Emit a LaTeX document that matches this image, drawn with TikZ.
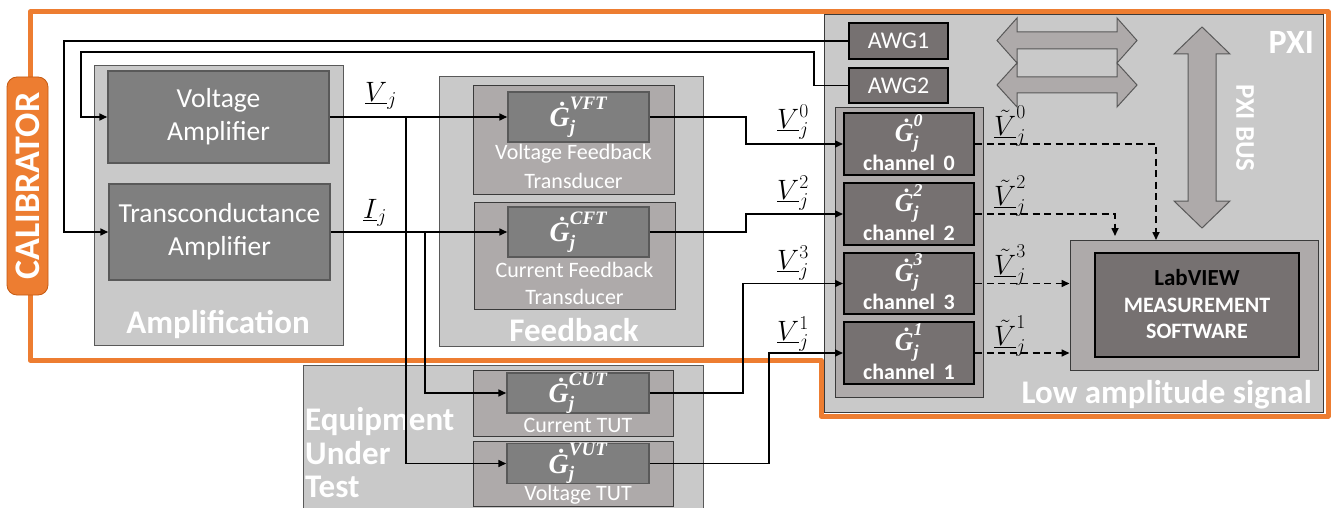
\RequirePackage{fix-cm}
\documentclass[tikz,border=0pt]{standalone}
\usepackage{fontspec}
\setmainfont{Carlito}
\newfontfamily\gF{Liberation Serif}
\usetikzlibrary{arrows.meta}
\definecolor{cL}{HTML}{C9C9C9}
\definecolor{cM}{HTML}{AEAAAA}
\definecolor{cD}{HTML}{7F7F7F}
\definecolor{cK}{HTML}{767171}
\definecolor{cO}{HTML}{ED7D31}
\definecolor{cOD}{HTML}{C55A11}
\definecolor{gB}{HTML}{595959}
\definecolor{gC}{HTML}{3A3A3A}
\newcommand{\fsz}[2]{\fontsize{#1}{#2}\selectfont}
\newcommand{\gsym}[3]{\ensuremath{\mbox{\gF\bfseries\itshape\fsz{#1}{#1}Ġ}^{\mbox{\gF\bfseries\itshape\fsz{#2}{#2}#3}}_{\mbox{\gF\bfseries\itshape\fsz{#2}{#2}j}}}}
\begin{document}
\begin{tikzpicture}[x=1pt,y=-1pt,
 lbox/.style={draw=gB, fill=cL, line width=1pt, inner sep=0pt},
 mbox/.style={draw=gC, fill=cM, line width=1pt, inner sep=0pt},
 dbox/.style={draw=gB, fill=cD, line width=1.5pt, inner sep=0pt, text=white},
 kbox/.style={draw=black, fill=cK, line width=2pt, inner sep=0pt, text=white},
 wire/.style={line width=1.6pt, -{Triangle[length=8pt,width=7pt]}},
 dwire/.style={wire, dash pattern=on 7pt off 4.5pt},
 wtxt/.style={text=white, inner sep=0pt},
 btxt/.style={text=white, inner sep=0pt, font=\bfseries\fsz{33}{33}},
 mlab/.style={inner sep=0pt, font=\fsz{28}{32}},
 gfont/.style={font=\fsz{26}{30}},
 arrowshape/.style={fill=cM, draw=gB, line width=1pt, line join=miter}
]
\useasboundingbox (0,0) rectangle (1333,508);
\clip (0,0) rectangle (1333,508);
\fill[white] (0,0) rectangle (1333,508);

% ---------- Amplification ----------
\node[lbox, minimum width=249pt, minimum height=279pt] (amp) at (218.5,205.5) {};
\node[dbox, minimum width=221pt, minimum height=92pt, align=center, font=\fsz{27.5}{33}] (va) at (218.5,117) {Voltage\\Amplifier};
\node[dbox, minimum width=221pt, minimum height=96pt, align=center, font=\fsz{27.5}{33}] (ta) at (219.5,232) {Transconductance\\Amplifier};
\node[btxt, anchor=base] (ampt) at (218,333) {Amplification};

% ---------- Feedback ----------
\node[lbox, minimum width=264pt, minimum height=269pt] (fb) at (571,211.5) {};
\node[mbox, minimum width=201pt, minimum height=108pt] (vftm) at (573.5,140) {};
\node[dbox, gfont, minimum width=141pt, minimum height=50pt] (vft) at (578.5,117) {\gsym{28}{19}{VFT}};
\node[wtxt, anchor=base, font=\fsz{22}{26}] (vftt1) at (573.5,160) {Voltage Feedback};
\node[wtxt, anchor=base, font=\fsz{22}{26}] (vftt2) at (573.5,188) {Transducer};
\node[mbox, minimum width=201pt, minimum height=107pt] (cftm) at (574.5,255.5) {};
\node[dbox, gfont, minimum width=141pt, minimum height=50pt] (cft) at (578.5,232) {\gsym{28}{19}{CFT}};
\node[wtxt, anchor=base, font=\fsz{22}{26}] (cftt1) at (574.5,277) {Current Feedback};
\node[wtxt, anchor=base, font=\fsz{22}{26}] (cftt2) at (574.5,304) {Transducer};
\node[btxt, anchor=base] (fbt) at (574,341) {Feedback};

% ---------- Equipment Under Test ----------
\node[lbox, minimum width=400pt, minimum height=160pt] (eut) at (503,445) {};
\node[mbox, minimum width=200pt, minimum height=66pt] (cutm) at (573,403) {};
\node[dbox, gfont, minimum width=142pt, minimum height=40pt] (cut) at (578,393) {\gsym{28}{19}{CUT}};
\node[wtxt, anchor=base, font=\fsz{22}{26}] (cutt) at (578,432) {Current TUT};
\node[mbox, minimum width=200pt, minimum height=65pt] (vutm) at (573,473.5) {};
\node[dbox, gfont, minimum width=142pt, minimum height=39pt] (vut) at (578,463.5) {\gsym{28}{19}{VUT}};
\node[wtxt, anchor=base, font=\fsz{22}{26}] (vutt) at (578,500) {Voltage TUT};
\node[btxt, anchor=base west] (eut1) at (305,430) {Equipment};
\node[btxt, anchor=base west] (eut2) at (305,464) {Under};
\node[btxt, anchor=base west] (eut3) at (305,497) {Test};

% ---------- PXI ----------
\node[lbox, draw=gC, minimum width=499pt, minimum height=397pt] (pxi) at (1073.5,213.5) {};
\node[text=white, inner sep=0pt, font=\bfseries\fsz{34}{34}, anchor=base east] (pxit) at (1314,54) {PXI};
\node[kbox, minimum width=99pt, minimum height=36pt, font=\fsz{24}{28}] (awg1) at (898.5,41) {AWG1};
\node[kbox, minimum width=99pt, minimum height=35pt, font=\fsz{24}{28}] (awg2) at (898.5,85.5) {AWG2};
\draw[arrowshape] (997,40.5) -- (1017,18) -- (1017,32) -- (1117,32) -- (1117,18) -- (1137,40.5) -- (1117,63) -- (1117,49) -- (1017,49) -- (1017,63) -- cycle;
\draw[arrowshape] (997,85) -- (1017,63) -- (1017,77) -- (1117,77) -- (1117,63) -- (1137,85) -- (1117,107) -- (1117,93) -- (1017,93) -- (1017,107) -- cycle;
\draw[arrowshape] (1202,27) -- (1230,54) -- (1216,54) -- (1216,201) -- (1230,201) -- (1202,228) -- (1174,201) -- (1188,201) -- (1188,54) -- (1174,54) -- cycle;
\node[text=white, inner sep=0pt, font=\bfseries\fsz{27}{27}, rotate=-90] (bust) at (1245,128) {PXI BUS};

\node[mbox, minimum width=148pt, minimum height=289pt] (chg) at (909,252.5) {};
\node[kbox, minimum width=130pt, minimum height=62pt] (ch0) at (909,144) {};
\node[kbox, minimum width=130pt, minimum height=62pt] (ch2) at (909,214) {};
\node[kbox, minimum width=130pt, minimum height=61pt] (ch3) at (909,283.5) {};
\node[kbox, minimum width=130pt, minimum height=62pt] (ch1) at (909,353) {};
\node[wtxt, gfont] (g0) at (909,133) {\gsym{26}{18}{0}};
\node[wtxt, gfont] (g2) at (909,203) {\gsym{26}{18}{2}};
\node[wtxt, gfont] (g3) at (909,272.5) {\gsym{26}{18}{3}};
\node[wtxt, gfont] (g1) at (909,342) {\gsym{26}{18}{1}};
\node[wtxt, anchor=base, font=\bfseries\fsz{22}{26}] (c0) at (909,170) {channel\, 0};
\node[wtxt, anchor=base, font=\bfseries\fsz{22}{26}] (c2) at (909,240) {channel\, 2};
\node[wtxt, anchor=base, font=\bfseries\fsz{22}{26}] (c3) at (909,309.5) {channel\, 3};
\node[wtxt, anchor=base, font=\bfseries\fsz{22}{26}] (c1) at (909,379) {channel\, 1};

\node[mbox, minimum width=248pt, minimum height=130pt] (lvo) at (1194,305) {};
\node[kbox, minimum width=204pt, minimum height=104pt] (lvi) at (1197,305) {};
\node[inner sep=0pt, anchor=base, font=\bfseries\fsz{23}{26}] (lv1) at (1197,285) {LabVIEW};
\node[wtxt, anchor=base, font=\bfseries\fsz{22}{26}] (lv2) at (1197,312) {MEASUREMENT};
\node[wtxt, anchor=base, font=\bfseries\fsz{22}{26}] (lv3) at (1197,338) {SOFTWARE};
\node[text=white, inner sep=0pt, font=\bfseries\fsz{33}{33}, anchor=base east] (lowt) at (1312,403) {Low amplitude signal};

% ---------- calibrator frame ----------
\draw[cO, line width=5pt, line join=round] (30,12) -- (1328,12) -- (1328,416) -- (821,416) -- (821,360) -- (30,360) -- cycle;
\node[rotate=90, fill=cO, draw=cOD, line width=0.8pt, rounded corners=10pt, minimum width=218pt, minimum height=41pt, inner sep=0pt, text=white, font=\bfseries\fsz{36}{36}] (cal) at (27.5,186) {CALIBRATOR};

% ---------- wires ----------
\draw[wire] (awg1.west) -- (64,41) |- (ta.west);
\draw[wire] (awg2.west) -- (814,85.5) -- (814,52) -- (81,52) |- (va.west);
\draw[wire] (va.east) -- (vft.west);
\draw[wire] (406,117) |- (vut.west);
\draw[wire] (ta.east) -- (cft.west);
\draw[wire] (425,232) |- (cut.west);
\draw[wire] (vft.east) -- (746,117) |- (ch0.west);
\draw[wire] (cft.east) -- (746,232) |- (ch2.west);
\draw[wire] (cut.east) -- (743,393) |- (ch3.west);
\draw[wire] (vut.east) -- (769,463.5) |- (ch1.west);
\draw[dwire] (ch0.east) -| (1156,240);
\draw[dwire] (ch2.east) -| (1115,236);
\draw[dwire] (ch3.east) -- (ch3.east -| lvo.west);
\draw[dwire] (ch1.east) -- (ch1.east -| lvo.west);

% ---------- signal labels ----------
\node[mlab] (lv) at (381,96) {$\underline{V}_j$};
\node[mlab] (li) at (375,213) {$\underline{I}_j$};
\node[mlab] (l0) at (793,122) {$\underline{V}_j^{0}$};
\node[mlab] (l2) at (793,193) {$\underline{V}_j^{2}$};
\node[mlab] (l3) at (793,263) {$\underline{V}_j^{3}$};
\node[mlab] (l1) at (793,334) {$\underline{V}_j^{1}$};
\node[mlab] (t0) at (1010,126) {$\underline{\tilde{V}}_j^{0}$};
\node[mlab] (t2) at (1010,196) {$\underline{\tilde{V}}_j^{2}$};
\node[mlab] (t3) at (1010,265) {$\underline{\tilde{V}}_j^{3}$};
\node[mlab] (t1) at (1010,336) {$\underline{\tilde{V}}_j^{1}$};
\end{tikzpicture}
\end{document}
